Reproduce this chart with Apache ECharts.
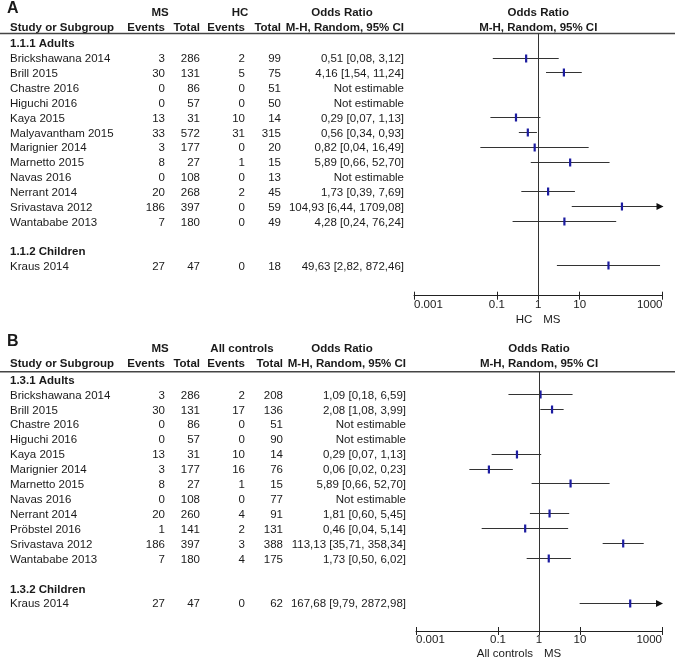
<!DOCTYPE html>
<html><head><meta charset="utf-8">
<script src="https://cdn.jsdelivr.net/npm/echarts@6/dist/echarts.min.js"></script>
<style>html,body{margin:0;padding:0;background:#fff}#c{width:675px;height:661px}</style>
</head><body><div id="c"></div>
<script>
// ---------- Panel A data ----------
const studiesA = ['Brickshawana 2014','Brill 2015','Chastre 2016','Higuchi 2016','Kaya 2015','Malyavantham 2015','Marignier 2014','Marnetto 2015','Navas 2016','Nerrant 2014','Srivastava 2012','Wantababe 2013','Kraus 2014'];
const rowsA = [1,2,3,4,5,6,7,8,9,10,11,12,15];
const msEventsA = [3,30,0,0,13,33,3,8,0,20,186,7,27];
const msTotalA = [286,131,86,57,31,572,177,27,108,268,397,180,47];
const hcEventsA = [2,5,0,0,10,31,0,1,0,2,0,0,0];
const hcTotalA = [99,75,51,50,14,315,20,15,13,45,59,49,18];
const orA = [0.51,4.16,null,null,0.29,0.56,0.82,5.89,null,1.73,104.93,4.28,49.63];
const loA = [0.08,1.54,null,null,0.07,0.34,0.04,0.66,null,0.39,6.44,0.24,2.82];
const hiA = [3.12,11.24,null,null,1.13,0.93,16.49,52.70,null,7.69,1709.08,76.24,872.46];
const groupsA = ['1.1.1 Adults','1.1.2 Children'];
const groupRowsA = [0,14];

// ---------- Panel B data ----------
const studiesB = ['Brickshawana 2014','Brill 2015','Chastre 2016','Higuchi 2016','Kaya 2015','Marignier 2014','Marnetto 2015','Navas 2016','Nerrant 2014','Pröbstel 2016','Srivastava 2012','Wantababe 2013','Kraus 2014'];
const rowsB = [1,2,3,4,5,6,7,8,9,10,11,12,15];
const msEventsB = [3,30,0,0,13,3,8,0,20,1,186,7,27];
const msTotalB = [286,131,86,57,31,177,27,108,260,141,397,180,47];
const ctrlEventsB = [2,17,0,0,10,16,1,0,4,2,3,4,0];
const ctrlTotalB = [208,136,51,90,14,76,15,77,91,131,388,175,62];
const orB = [1.09,2.08,null,null,0.29,0.06,5.89,null,1.81,0.46,113.13,1.73,167.68];
const loB = [0.18,1.08,null,null,0.07,0.02,0.66,null,0.60,0.04,35.71,0.50,9.79];
const hiB = [6.59,3.99,null,null,1.13,0.23,52.70,null,5.45,5.14,358.34,6.02,2872.98];
const groupsB = ['1.3.1 Adults','1.3.2 Children'];
const groupRowsB = [0,14];

// ---------- Axis ticks ----------
const tickValues = [0.001,0.1,1,10,1000];
const tickLabels = ['0.001','0.1','1','10','1000'];
const xMin = 0.001, xMax = 1000;

const FONT = '"Liberation Sans", Arial, sans-serif';
const TXT = '#1a1a1a';
const FS = 11.5;

function fmt(v){ return v.toFixed(2).replace('.', ','); }
function orText(o,l,h){ return o == null ? 'Not estimable' : fmt(o) + ' [' + fmt(l) + ', ' + fmt(h) + ']'; }
function ciData(or, lo, hi, rows){
  const out = [];
  for (let i = 0; i < or.length; i++) if (or[i] != null) out.push([lo[i], hi[i], or[i], rows[i]]);
  return out;
}
function renderCI(params, api){
  const lo = api.value(0), hi = api.value(1), or = api.value(2), row = api.value(3);
  const clipped = hi > xMax;
  const p0 = api.coord([lo, row]);
  const p1 = api.coord([clipped ? xMax : hi, row]);
  const pm = api.coord([or, row]);
  const y = Math.round(p0[1]) + 0.5;
  const ch = [
    {type:'line', shape:{x1:p0[0], y1:y, x2:p1[0], y2:y}, style:{stroke:'#333', lineWidth:1}},
    {type:'rect', shape:{x:pm[0]-1.1, y:y-4, width:2.2, height:8}, style:{fill:'#1c1ca0'}}
  ];
  if (clipped) ch.push({type:'polygon', shape:{points:[[p1[0]+1,y],[p1[0]-6,y-3.5],[p1[0]-6,y+3.5]]}, style:{fill:'#111'}});
  return {type:'group', children: ch};
}
function labelFor(v){
  for (let i = 0; i < tickValues.length; i++)
    if (Math.abs(Math.log10(tickValues[i]) - Math.log10(v)) < 0.01) return tickLabels[i];
  return '';
}
function xAxes(gi, h){
  return [
    {type:'log', logBase:10, gridIndex:gi, min:xMin, max:xMax, position:'bottom', offset:0,
     axisLine:{show:true, onZero:false, lineStyle:{color:'#222', width:1}},
     axisTick:{show:true, length:4, lineStyle:{color:'#222'}, customValues:tickValues},
     axisLabel:{customValues:tickValues, formatter:labelFor, color:TXT, fontSize:FS, fontFamily:FONT, margin:3,
                alignMinLabel:'left', alignMaxLabel:'right'},
     splitLine:{show:false}, minorTick:{show:false}},
    // second copy placed on the same bottom line, drawing the upward half of each tick
    {type:'log', logBase:10, gridIndex:gi, min:xMin, max:xMax, position:'top', offset:-h,
     axisLine:{show:false, onZero:false},
     axisTick:{show:true, inside:false, length:4, lineStyle:{color:'#222'}, customValues:tickValues},
     axisLabel:{show:false}, splitLine:{show:false}}
  ];
}

const chart = echarts.init(document.getElementById('c'), null, {renderer:'canvas'});
const refLine = {silent:true, symbol:'none', label:{show:false}, lineStyle:{color:'#333', width:1, type:'solid'}, data:[{xAxis:1}]};
const hA = 262.2, hB = 259.3;

chart.setOption({
  animation:false,
  backgroundColor:'#fff',
  grid:[
    {left:414, right:12.5, top:33.5, height:hA},
    {left:416, right:13, top:371.7, height:hB}
  ],
  xAxis: xAxes(0, hA).concat(xAxes(1, hB)),
  yAxis:[
    {type:'value', gridIndex:0, inverse:true, min:-0.623, max:17.034, show:false},
    {type:'value', gridIndex:1, inverse:true, min:-0.496, max:16.895, show:false}
  ],
  series:[
    {type:'custom', xAxisIndex:0, yAxisIndex:0, renderItem:renderCI, data:ciData(orA,loA,hiA,rowsA),
     encode:{x:[0,1,2], y:3}, clip:false, markLine:refLine, z:3},
    {type:'custom', xAxisIndex:2, yAxisIndex:1, renderItem:renderCI, data:ciData(orB,loB,hiB,rowsB),
     encode:{x:[0,1,2], y:3}, clip:false, markLine:refLine, z:3}
  ]
});

// ---------- Table text (graphic) ----------
const g = [];
function t(x, y, text, align, bold, size){
  g.push({type:'text', x:x, y:y, silent:true,
    style:{text:text, fill:TXT, font:(bold?'bold ':'') + (size||FS) + 'px ' + FONT, textAlign:align||'left', textVerticalAlign:'middle'}});
}
function hline(y){
  g.push({type:'line', silent:true, shape:{x1:0, y1:y, x2:675, y2:y}, style:{stroke:'#444', lineWidth:1.6}});
}
function panel(opt){
  const yOf = r => chart.convertToPixel({yAxisIndex:opt.yi}, r) + 1.5;
  const x1 = chart.convertToPixel({xAxisIndex:opt.xi}, 1);
  t(7, opt.letterY, opt.letter, 'left', true, 16);
  t(160, opt.h1, 'MS', 'center', true);
  t(opt.ctrlCenter, opt.h1, opt.ctrlName, 'center', true);
  t(342, opt.h1, 'Odds Ratio', 'center', true);
  t(x1, opt.h1, 'Odds Ratio', 'center', true);
  t(10, opt.h2, 'Study or Subgroup', 'left', true);
  t(165, opt.h2, 'Events', 'right', true);
  t(200, opt.h2, 'Total', 'right', true);
  t(245, opt.h2, 'Events', 'right', true);
  t(opt.totRight, opt.h2, 'Total', 'right', true);
  t(opt.orRight, opt.h2, 'M-H, Random, 95% CI', 'right', true);
  t(x1, opt.h2, 'M-H, Random, 95% CI', 'center', true);
  hline(opt.lineY);
  opt.groups.forEach((name, i) => t(10, yOf(opt.groupRows[i]), name, 'left', true));
  opt.studies.forEach((name, i) => {
    const y = yOf(opt.rows[i]);
    t(10, y, name, 'left');
    t(165, y, String(opt.e1[i]), 'right');
    t(200, y, String(opt.n1[i]), 'right');
    t(245, y, String(opt.e2[i]), 'right');
    t(opt.totRight, y, String(opt.n2[i]), 'right');
    t(opt.orRight, y, orText(opt.or[i], opt.lo[i], opt.hi[i]), 'right');
  });
  t(x1 - 6, opt.nameY, opt.leftName, 'right');
  t(x1 + 5, opt.nameY, 'MS', 'left');
}
panel({yi:0, xi:0, letter:'A', letterY:9, h1:12.5, h2:27.5, lineY:33.5, ctrlName:'HC', ctrlCenter:240,
  totRight:281, orRight:404, groups:groupsA, groupRows:groupRowsA, studies:studiesA, rows:rowsA,
  e1:msEventsA, n1:msTotalA, e2:hcEventsA, n2:hcTotalA, or:orA, lo:loA, hi:hiA, nameY:320, leftName:'HC'});
panel({yi:1, xi:2, letter:'B', letterY:342, h1:349.3, h2:364.3, lineY:371.7, ctrlName:'All controls', ctrlCenter:242,
  totRight:283, orRight:406, groups:groupsB, groupRows:groupRowsB, studies:studiesB, rows:rowsB,
  e1:msEventsB, n1:msTotalB, e2:ctrlEventsB, n2:ctrlTotalB, or:orB, lo:loB, hi:hiB, nameY:654, leftName:'All controls'});

chart.setOption({graphic:{elements:g}});
</script></body></html>
